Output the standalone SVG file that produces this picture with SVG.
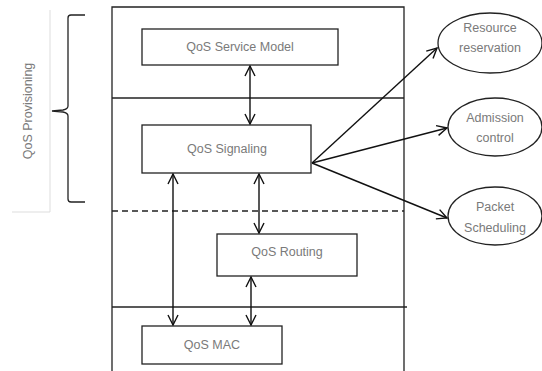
<svg xmlns="http://www.w3.org/2000/svg" width="542" height="371" viewBox="0 0 542 371">
<defs>
<style>
.box{fill:#fff;stroke:#222;stroke-width:1.3}
.ln{stroke:#222;stroke-width:1.3;fill:none}
.t{font-family:"Liberation Sans",Arial,sans-serif;font-size:12.5px;fill:#7a7a7a;text-anchor:middle}
.c{stroke:#111;stroke-width:1.4;fill:none}
</style>
<marker id="ah" viewBox="0 0 12 12" refX="11" refY="6" markerWidth="12" markerHeight="12" markerUnits="userSpaceOnUse" orient="auto-start-reverse">
<path d="M1,1 L11,6 L1,11" fill="none" stroke="#111" stroke-width="1.4"/>
</marker>
</defs>
<rect width="542" height="371" fill="#fff"/>
<g id="frame">
<path class="ln" d="M112,372 V7 H404 V372"/>
<line class="ln" x1="112" y1="98" x2="404" y2="98"/>
<line class="ln" x1="112" y1="211" x2="404" y2="211" stroke-dasharray="6,4" stroke="#555"/>
<line class="ln" x1="112" y1="307" x2="407" y2="307"/>
</g>
<g id="provisioning">
<path d="M50,10 V212 H12" fill="none" stroke="#ddd" stroke-width="1"/>
<path class="ln" d="M85,15 H71 Q68,15 68,18 V106 Q68,109 63,110 L52,111 L63,112 Q68,113 68,116 V199 Q68,202 71,202 H85" stroke-width="1.2"/>
<text class="t" transform="translate(32,111) rotate(-90)">QoS Provisioning</text>
</g>
<g id="service-model">
<rect class="box" x="142" y="29" width="196" height="36"/>
<text class="t" x="240" y="51">QoS Service Model</text>
</g>
<g id="signaling">
<rect class="box" x="142" y="125" width="169" height="48"/>
<text class="t" x="227" y="153">QoS Signaling</text>
</g>
<g id="routing">
<rect class="box" x="217" y="234" width="140" height="42"/>
<text class="t" x="287" y="256">QoS Routing</text>
</g>
<g id="mac">
<rect class="box" x="142" y="326" width="140" height="38"/>
<text class="t" x="212" y="349">QoS MAC</text>
</g>
<g id="resource">
<ellipse class="box" cx="490" cy="43" rx="52" ry="30"/>
<text class="t" x="490" y="32">Resource</text>
<text class="t" x="490" y="52">reservation</text>
</g>
<g id="admission">
<ellipse class="box" cx="495" cy="127" rx="47" ry="29"/>
<text class="t" x="495" y="122">Admission</text>
<text class="t" x="495" y="142">control</text>
</g>
<g id="packet">
<ellipse class="box" cx="495" cy="216" rx="47" ry="29"/>
<text class="t" x="495" y="211">Packet</text>
<text class="t" x="495" y="232">Scheduling</text>
</g>
<g id="connectors">
<line class="c" x1="250" y1="66" x2="250" y2="124" marker-start="url(#ah)" marker-end="url(#ah)"/>
<line class="c" x1="259" y1="174" x2="259" y2="233" marker-start="url(#ah)" marker-end="url(#ah)"/>
<line class="c" x1="251" y1="277" x2="251" y2="325" marker-start="url(#ah)" marker-end="url(#ah)"/>
<line class="c" x1="173" y1="174" x2="173" y2="325" marker-start="url(#ah)" marker-end="url(#ah)"/>
<line class="c" x1="312" y1="163" x2="437" y2="48" marker-end="url(#ah)"/>
<line class="c" x1="312" y1="163" x2="447" y2="128" marker-end="url(#ah)"/>
<line class="c" x1="312" y1="163" x2="447" y2="218" marker-end="url(#ah)"/>
</g>
</svg>
